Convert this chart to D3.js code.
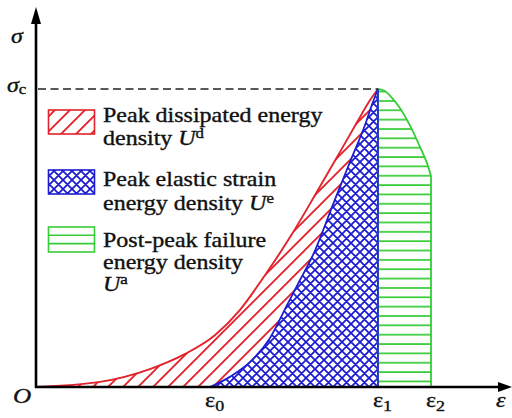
<!DOCTYPE html>
<html><head><meta charset="utf-8">
<script src="https://cdn.jsdelivr.net/npm/d3@7"></script>
<style>body{margin:0;background:#fff}svg{display:block}svg text{font-family:"Liberation Serif","Times New Roman",Times,serif;stroke:#111;stroke-width:0.35px}</style>
</head><body>
<svg id="c" width="512" height="418"></svg>
<script>
// ---- data (strain ε, stress σ in arbitrary units; ε1 = 10, σc = 10) ----
const dissipatedEps = [0, 1.87, 3.33, 4.36, 5.23, 5.96, 6.70, 7.43, 8.16, 8.89, 9.39, 9.77, 10];
const dissipatedSig = [0, 0.17, 0.60, 1.11, 1.74, 2.58, 3.76, 5.03, 6.44, 7.89, 8.89, 9.63, 10];
const elasticEps = [5.09, 5.67, 6.26, 6.84, 7.34, 7.72, 8.10, 8.68, 9.18, 9.62, 9.82, 10];
const elasticSig = [0, 0.34, 0.84, 1.64, 2.75, 3.59, 4.43, 6.11, 7.55, 8.79, 9.46, 10];
const postEps = [10, 10.20, 10.41, 10.64, 10.94, 11.23, 11.43, 11.55];
const postSig = [10, 9.93, 9.70, 9.36, 8.76, 8.05, 7.52, 7.08];
const epsMarks = [5.09, 10, 11.55];
const epsSubs = ["0", "1", "2"];
const sigmaC = 10;
const legendLines = [
  ["Peak dissipated energy", "density "],
  ["Peak elastic strain", "energy density "],
  ["Post-peak failure", "energy density", ""]
];
const legendSups = ["d", "e", "a"];

// ---- scales ----
const x = d3.scaleLinear().domain([0, 10]).range([36, 378]);
const y = d3.scaleLinear().domain([0, 10]).range([387, 89]);

const RED = "#e3222b", BLUE = "#1d1dcf", GREEN = "#37cc37";
const svg = d3.select("#c");
const defs = svg.append("defs");

const pr = defs.append("pattern").attr("id", "pRed").attr("patternUnits", "userSpaceOnUse")
  .attr("width", 15).attr("height", 15);
pr.append("rect").attr("width", 15).attr("height", 15).attr("fill", "#fff");
pr.append("path").attr("d", "M0,15L15,0M-4,4L4,-4M11,19L19,11").attr("stroke", RED).attr("stroke-width", 1.9);

const pb = defs.append("pattern").attr("id", "pBlue").attr("patternUnits", "userSpaceOnUse")
  .attr("width", 9).attr("height", 9);
pb.append("rect").attr("width", 9).attr("height", 9).attr("fill", "#fff");
pb.append("path").attr("d", "M0,0L9,9M9,0L0,9M-1,8L1,10M8,-1L10,1M-1,1L1,-1M8,10L10,8").attr("stroke", BLUE).attr("stroke-width", 1.8);

const pg = defs.append("pattern").attr("id", "pGreen").attr("patternUnits", "userSpaceOnUse")
  .attr("width", 10).attr("height", 9.35).attr("y", 387 - 9.35 * 0.7);
pg.append("rect").attr("width", 10).attr("height", 9.35).attr("fill", "#fff");
pg.append("path").attr("d", "M0,1L10,1").attr("stroke", GREEN).attr("stroke-width", 1.7);

const pts = (ex, sy) => ex.map((e, i) => [e, sy[i]]);
const redPts = pts(dissipatedEps, dissipatedSig);
const bluePts = pts(elasticEps, elasticSig);
const greenPts = pts(postEps, postSig);

const line = d3.line().x(d => x(d[0])).y(d => y(d[1])).curve(d3.curveMonotoneX);

// red region: under red curve, above blue curve
const redArea = line(redPts) + "L" + line(bluePts.slice().reverse()).slice(1) + "Z";
svg.append("path").attr("d", redArea).attr("fill", "url(#pRed)").attr("stroke", "none");
svg.append("path").attr("d", line(redPts)).attr("fill", "none").attr("stroke", RED).attr("stroke-width", 1.9);

// blue region
const e1 = epsMarks[1], e2 = epsMarks[2];
const blueArea = line(bluePts) + "L" + x(e1) + "," + y(0) + "Z";
svg.append("path").attr("d", blueArea).attr("fill", "url(#pBlue)").attr("stroke", BLUE).attr("stroke-width", 1.8);

// green region
const greenArea = line(greenPts) + "L" + x(e2) + "," + y(0) + "L" + x(e1) + "," + y(0) + "Z";
svg.append("path").attr("d", greenArea).attr("fill", "url(#pGreen)").attr("stroke", GREEN).attr("stroke-width", 1.8);
svg.append("line").attr("x1", x(e1)).attr("x2", x(e1)).attr("y1", y(0)).attr("y2", y(sigmaC))
  .attr("stroke", BLUE).attr("stroke-width", 1.6);

// dashed σc line
svg.append("line").attr("x1", x(0) + 2).attr("x2", x(e1)).attr("y1", y(sigmaC)).attr("y2", y(sigmaC))
  .attr("stroke", "#222").attr("stroke-width", 1.6).attr("stroke-dasharray", "8,4.5");

// axes
svg.append("line").attr("x1", x(0)).attr("x2", x(0)).attr("y1", y(0) + 1).attr("y2", 20).attr("stroke", "#000").attr("stroke-width", 2.6);
svg.append("path").attr("d", "M36,7L31,24L41,24Z").attr("fill", "#000");
svg.append("line").attr("x1", x(0) - 1).attr("x2", 502).attr("y1", y(0)).attr("y2", y(0)).attr("stroke", "#000").attr("stroke-width", 2.6);
svg.append("path").attr("d", "M512,387L498,382L498,392Z").attr("fill", "#000");

// text helper (horizontally stretched serif as in reference)
function label(px, py) {
  return svg.append("g").attr("transform", `translate(${px},${py}) scale(1.2,1)`)
    .append("text").attr("font-size", 20).attr("fill", "#111");
}

// axis labels
label(11, 43).attr("font-style", "italic").text("σ");
let t = label(7, 92).attr("font-style", "italic");
t.append("tspan").text("σ");
t.append("tspan").attr("font-style", "normal").attr("font-size", 14).attr("dy", 2).text("c");
label(13, 403).attr("font-style", "italic").attr("font-size", 21).text("O");
label(496, 407).attr("font-style", "italic").text("ε");
epsMarks.forEach((e, i) => {
  const tt = label(x(e) - 5, 407);
  tt.append("tspan").text("ε");
  tt.append("tspan").attr("font-size", 15).attr("dy", 4).text(epsSubs[i]);
});

// legend
const swY = [110, 170, 227];
const swFill = ["url(#pRed)", "url(#pBlue)", "#fff"];
const swStroke = [RED, BLUE, GREEN];
const textY = [[122, 145], [186, 210], [247, 269, 291]];
legendLines.forEach((lines, i) => {
  svg.append("rect").attr("x", 48.5).attr("y", swY[i]).attr("width", 46).attr("height", 24 + (i === 2 ? 1 : 0))
    .attr("fill", swFill[i]).attr("stroke", swStroke[i]).attr("stroke-width", 1.6);
  if (i === 2) {
    [8.3, 16.6].forEach(o => svg.append("line").attr("x1", 48.5).attr("x2", 94.5)
      .attr("y1", swY[i] + o).attr("y2", swY[i] + o).attr("stroke", GREEN).attr("stroke-width", 1.6));
  }
  lines.forEach((s, j) => {
    const tx = label(103, textY[i][j]);
    tx.append("tspan").text(s);
    if (j === lines.length - 1) {
      tx.append("tspan").attr("font-style", "italic").text("U");
      tx.append("tspan").attr("font-size", 14).attr("dy", -7).text(legendSups[i]);
    }
  });
});
</script>
</body></html>
